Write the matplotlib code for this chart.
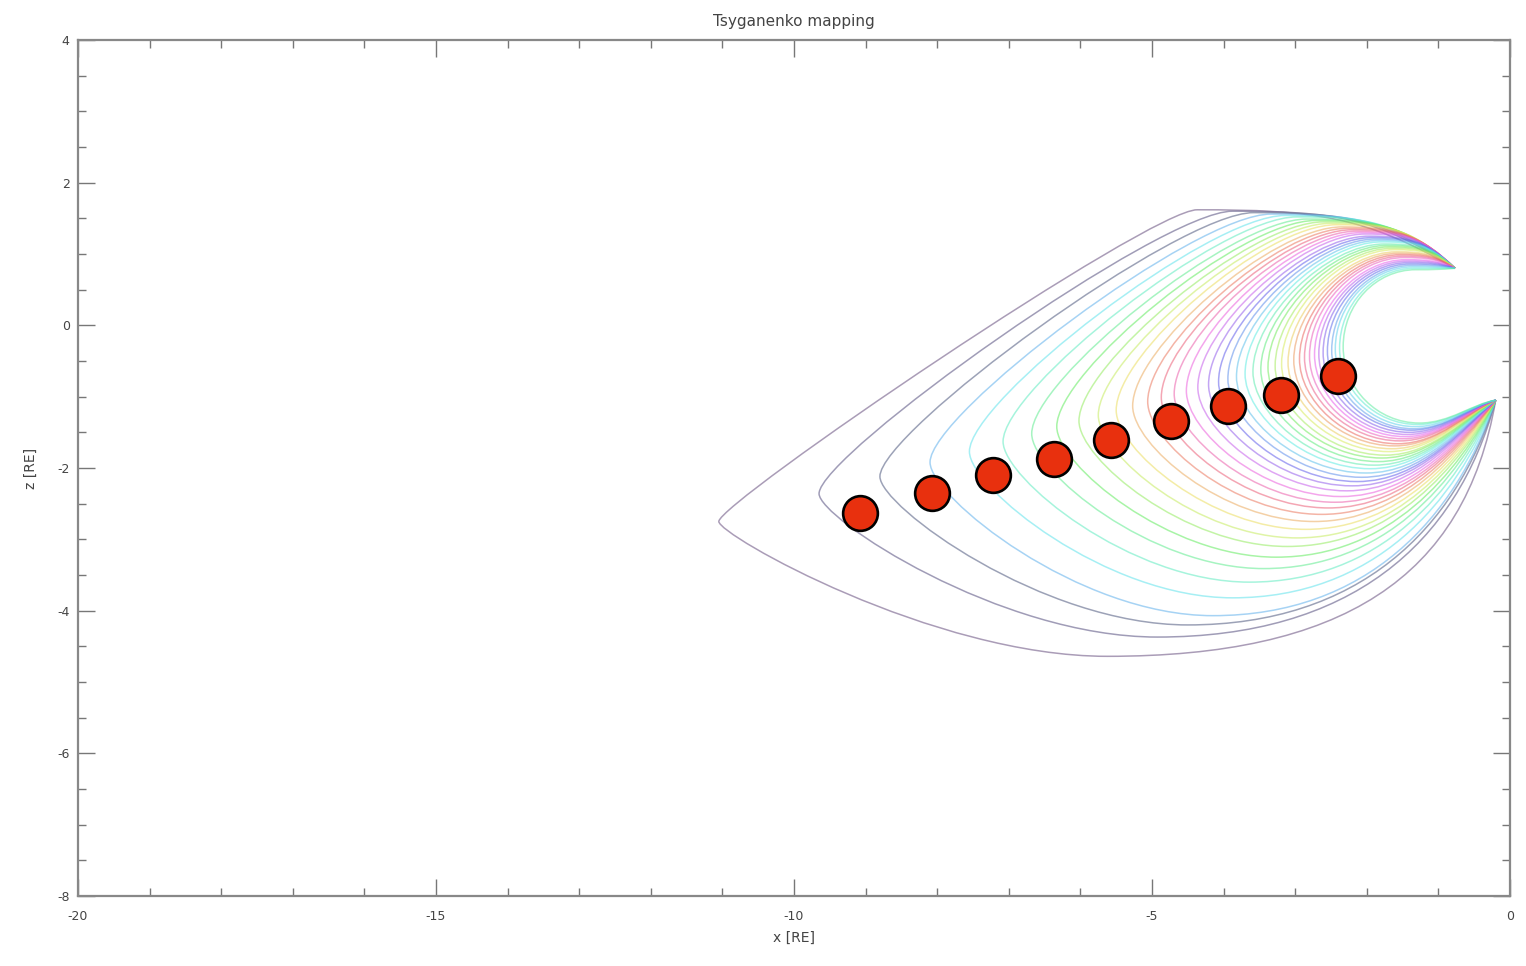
import numpy as np
import matplotlib
matplotlib.use("Agg")
import matplotlib.pyplot as plt
from matplotlib.path import Path
from matplotlib.patches import PathPatch
from matplotlib.colors import hsv_to_rgb
from matplotlib.ticker import MultipleLocator, FuncFormatter

# ---------------- data ----------------
title = "Tsyganenko mapping"
x_label = "x [RE]"
y_label = "z [RE]"

# field-line footpoints (top / bottom)
foot_top = (-0.77, 0.80)
foot_bot = (-0.20, -1.05)

# per field line (outer -> inner): leftmost x, z at leftmost point, max z, min z
line_x_left = [-11.05, -9.65, -8.80, -8.10, -7.55, -7.08, -6.68, -6.33, -6.02, -5.75,
               -5.50, -5.27, -5.06, -4.87, -4.69, -4.52, -4.36, -4.21, -4.07, -3.94,
               -3.82, -3.70, -3.59, -3.48, -3.38, -3.28, -3.19, -3.10, -3.02, -2.94,
               -2.87, -2.80, -2.73, -2.67, -2.61, -2.55, -2.49, -2.44, -2.38, -2.33]
line_z_left = [-2.75, -2.36, -2.12, -1.92, -1.77, -1.63, -1.52, -1.42, -1.34, -1.26,
               -1.19, -1.13, -1.07, -1.01, -0.96, -0.92, -0.87, -0.83, -0.79, -0.75,
               -0.72, -0.68, -0.65, -0.62, -0.59, -0.57, -0.54, -0.52, -0.49, -0.47,
               -0.45, -0.43, -0.41, -0.40, -0.38, -0.36, -0.35, -0.33, -0.32, -0.30]
line_z_top = [1.62, 1.60, 1.58, 1.56, 1.54, 1.52, 1.49, 1.47, 1.45, 1.43,
              1.41, 1.38, 1.36, 1.34, 1.32, 1.30, 1.28, 1.25, 1.23, 1.21,
              1.19, 1.17, 1.14, 1.12, 1.10, 1.08, 1.06, 1.03, 1.01, 0.99,
              0.97, 0.95, 0.92, 0.90, 0.88, 0.86, 0.84, 0.82, 0.80, 0.78]
line_z_bot = [-4.64, -4.37, -4.20, -4.07, -3.82, -3.60, -3.41, -3.25, -3.10, -2.98,
              -2.86, -2.75, -2.65, -2.56, -2.48, -2.40, -2.32, -2.25, -2.19, -2.13,
              -2.07, -2.01, -1.96, -1.91, -1.86, -1.82, -1.77, -1.73, -1.69, -1.66,
              -1.62, -1.59, -1.56, -1.53, -1.50, -1.47, -1.45, -1.42, -1.39, -1.37]

# mapped points (red dots)
dot_x = [-9.08, -8.07, -7.22, -6.37, -5.57, -4.73, -3.94, -3.20, -2.40]
dot_z = [-2.63, -2.35, -2.10, -1.88, -1.61, -1.34, -1.13, -0.97, -0.71]

x_ticks = [-20, -15, -10, -5, 0]
y_ticks = [4, 2, 0, -2, -4, -6, -8]

# ---------------- figure ----------------
W, H = 1526, 966
fig = plt.figure(figsize=(W / 100, H / 100), dpi=100)
ax = fig.add_axes([78 / W, (H - 896) / H, (1510 - 78) / W, (896 - 40) / H])

N = len(line_x_left)
Tx, Tz = foot_top
Bx, Bz = foot_bot
for i in range(N):
    s = i / (N - 1)
    t = s ** 0.5
    xl, zl, zt, zb = line_x_left[i], line_z_left[i], line_z_top[i], line_z_bot[i]
    xt = Tx + 0.35 * (xl - Tx)
    xb = Bx + 0.5 * (xl - Bx)
    k2a = 0.10 + 0.45 * t
    k2b = 0.06 + 0.49 * t
    k3a = 0.10 + 0.45 * t
    k3b = 0.45 + 0.10 * t
    k4 = 0.6 - 0.2 * t
    a4 = 0.08 + 0.22 * t
    c4 = 0.70 - 0.55 * t
    verts = [
        (Tx, Tz),
        (Tx + 0.35 * (xt - Tx), Tz + 0.9 * (zt - Tz)), (xt + 0.45 * (Tx - xt), zt), (xt, zt),
        (xt + k2a * (xl - xt), zt), (xl, zl + k2b * (zt - zl)), (xl, zl),
        (xl, zl - k3a * (zl - zb)), (xb + k3b * (xl - xb), zb), (xb, zb),
        (xb + k4 * (Bx - xb), zb), (Bx - a4 * (Bx - xb), Bz - c4 * (Bz - zb)), (Bx, Bz),
    ]
    codes = [Path.MOVETO] + [Path.CURVE4] * 12
    hue = (0.75 - 0.06 * i) % 1.0
    sat = 0.25 if i < 3 else 0.6
    val = 0.60 if i < 3 else 0.92
    col = hsv_to_rgb((hue, sat, val))
    ax.add_patch(PathPatch(Path(verts, codes), facecolor="none", edgecolor=col,
                           lw=1.1, alpha=0.55 if i >= 3 else 0.7, zorder=2))

ax.plot(dot_x, dot_z, "o", ms=25, mfc="#e8300e", mec="black", mew=1.9, zorder=5,
        linestyle="none")

ax.set_xlim(-20, 0)
ax.set_ylim(-8, 4)
ax.set_xticks(x_ticks)
ax.set_yticks(y_ticks)
fmt = FuncFormatter(lambda v, p: "%d" % v)
ax.xaxis.set_major_formatter(fmt)
ax.yaxis.set_major_formatter(fmt)
ax.xaxis.set_minor_locator(MultipleLocator(1))
ax.yaxis.set_minor_locator(MultipleLocator(0.5))
ax.tick_params(which="both", direction="in", top=True, right=True, color="#777777",
               labelcolor="#444444", labelsize=9)
ax.tick_params(which="major", length=12, width=1.0)
ax.tick_params(which="minor", length=6, width=1.0)
ax.tick_params(axis="x", which="major", pad=10)
ax.tick_params(axis="y", which="major", pad=6)
for sp in ax.spines.values():
    sp.set_color("#888888")
    sp.set_linewidth(1.6)

ax.set_title(title, fontsize=11, color="#444444", pad=10)
ax.set_xlabel(x_label, fontsize=10, color="#444444", labelpad=6)
ax.set_ylabel(y_label, fontsize=10, color="#444444", labelpad=14)

fig.savefig("out.png", dpi=100)
